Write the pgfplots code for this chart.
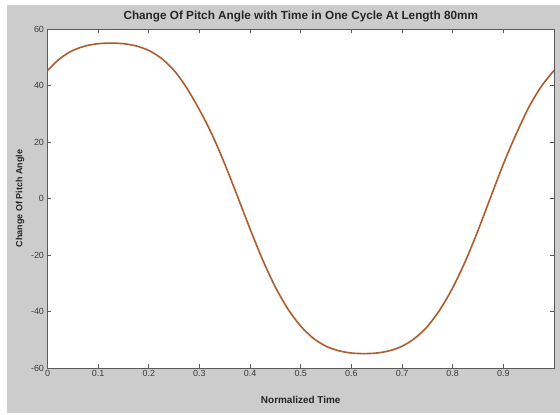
\documentclass[border=0pt]{standalone}
\usepackage{pgfplots}
\pgfplotsset{compat=1.18}
\usepackage{fontspec}
\setmainfont{Liberation Sans}
\definecolor{figgray}{RGB}{204,204,204}
\definecolor{curve}{RGB}{172,92,45}
\definecolor{axgray}{RGB}{90,90,90}
\definecolor{lblgray}{RGB}{60,60,60}
\begin{document}
\begin{tikzpicture}
\fill[white] (0bp,0bp) rectangle (560bp,415bp);
\fill[figgray] (7bp,2bp) rectangle (560bp,410bp);
\begin{axis}[
  at={(47.5bp,47bp)}, anchor=south west,
  scale only axis, width=506.5bp, height=339bp,
  xmin=0, xmax=1, ymin=-60, ymax=60,
  axis background/.style={fill=white},
  axis line style={axgray, line width=1pt},
  tick align=inside, tick pos=both,
  major tick length=4bp,
  every tick/.style={axgray, line width=0.8pt},
  xtick={0,0.1,0.2,0.3,0.4,0.5,0.6,0.7,0.8,0.9},
  xticklabels={0,0.1,0.2,0.3,0.4,0.5,0.6,0.7,0.8,0.9},
  ytick={-60,-40,-20,0,20,40,60},
  yticklabels={-60,-40,-20,0,20,40,60},
  tick label style={font=\fontsize{9}{10}\selectfont, text=lblgray},
  xticklabel style={yshift=1bp},
  every axis title shift=0pt,
  title={Change Of Pitch Angle with Time in One Cycle At Length 80mm},
  title style={font=\fontsize{11.8}{13}\selectfont\bfseries, text=black!85, at={(axis description cs:0.5,1.038)}, anchor=center},
  xlabel={Normalized Time},
  xlabel style={font=\fontsize{10}{12}\selectfont\bfseries, text=black!85, at={(axis description cs:0.5,-0.094)}, anchor=center},
  ylabel={Change Of Pitch Angle},
  ylabel style={font=\fontsize{9}{10}\selectfont\bfseries, text=black!85, at={(axis description cs:-0.054,0.5)}, anchor=center, rotate=0},
  clip=true,
]
\addplot[curve, line width=1.6pt, smooth] coordinates {
(0,45.3) (0.025,49.6) (0.05,52.4) (0.075,54.0) (0.1,54.8) (0.125,55.0)
(0.15,54.8) (0.175,54.0) (0.2,52.4) (0.225,49.6) (0.25,45.3) (0.275,39.1)
(0.3,31.4) (0.325,22.6) (0.35,12.2) (0.375,0.8) (0.4,-10.8) (0.425,-21.8)
(0.45,-31.4) (0.475,-39.2) (0.5,-45.2) (0.525,-49.5) (0.55,-52.3) (0.575,-53.9)
(0.6,-54.7) (0.625,-54.9) (0.65,-54.7) (0.675,-53.9) (0.7,-52.3) (0.725,-49.5)
(0.75,-45.3) (0.775,-39.3) (0.8,-31.6) (0.825,-22.2) (0.85,-11.3) (0.875,0.5)
(0.9,12.2) (0.925,22.7) (0.95,32.2) (0.975,39.7) (1.0,45.3)
};
\end{axis}
\end{tikzpicture}
\end{document}
